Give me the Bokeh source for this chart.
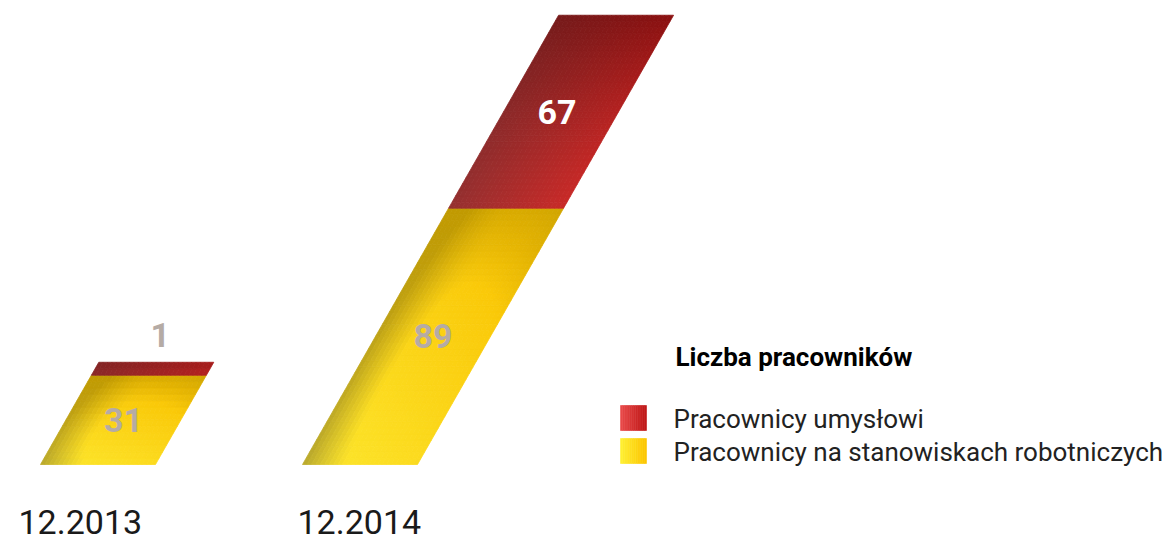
import numpy as np
from bokeh.plotting import figure
from bokeh.models import Range1d
from bokeh.embed import file_html
from bokeh.resources import INLINE
from bokeh.core.properties import value

# ---------------- data ----------------
categories = ["12.2013", "12.2014"]
blue_collar = [31, 89]     # Pracownicy na stanowiskach robotniczych
white_collar = [1, 67]     # Pracownicy umysłowi
series_names = ["Pracownicy umysłowi", "Pracownicy na stanowiskach robotniczych"]
legend_title = "Liczba pracowników"

# ---------------- layout / style ----------------
W, H = 1163, 540
K = 2.88            # pixels per unit
BASE_PX = 464       # baseline position (px from top)
SLOPE = 0.57        # horizontal px per vertical px (slant)
SHEAR = SLOPE * K   # x units per value unit
BAR_W = 115
BAR_LEFT0, BAR_STEP = 40, 262
MIN_H = 4.5         # minimum drawn height (units) so tiny values stay visible
CAT_LABEL_LEFT = [18, 297]
FONT = "Roboto"


def py(px):
    """pixel-from-top -> data y"""
    return (BASE_PX - px) / K


def lerp(a, b, t):
    return tuple(a[i] + (b[i] - a[i]) * t for i in range(3))


def hexc(c):
    return "#%02x%02x%02x" % tuple(int(max(0, min(255, round(v)))) for v in c)


def yellow_col(u, s):
    bright = (253, 231, 46)
    orange = (249, 194, 0)
    t = np.clip(0.15 + 0.85 * s + 0.35 * (u - 0.5), 0, 1)
    base = lerp(bright, orange, t)
    dark = lerp((182, 166, 46), (188, 150, 0), s)
    du = (u - 0.55) / (0.55 if u < 0.55 else 1.3)
    ds = (s - 0.3) / 0.9
    d = np.hypot(du, ds)
    e = np.clip((d - 0.45) / 0.6, 0, 0.92)
    return lerp(base, dark, e)


def red_col(u, s):
    c00 = (148, 48, 48)
    c10 = (200, 42, 40)
    c01 = (118, 26, 26)
    c11 = (138, 16, 16)
    ss = s ** 1.6
    bottom = lerp(c00, c10, u)
    top = lerp(c01, c11, u)
    return lerp(bottom, top, ss)


p = figure(width=W, height=H, x_range=Range1d(0, W), y_range=Range1d(py(H), py(0)),
           output_backend="svg", toolbar_location=None, min_border=0,
           x_axis_type=None, y_axis_type=None, outline_line_color=None,
           background_fill_color="white", border_fill_color="white")
p.grid.visible = False

xs, ys, cols = [], [], []


def add_segment(x0, y0, y1, colfn, nu=26, small=False):
    hpx = (y1 - y0) * K
    nv = max(2, int(hpx / 6))
    for j in range(nv):
        s0, s1 = j / nv, (j + 1) / nv
        ya, yb = y0 + (y1 - y0) * s0, y0 + (y1 - y0) * s1
        for i in range(nu):
            u0, u1 = i / nu, (i + 1) / nu
            xs.append([x0 + u0 * BAR_W + SHEAR * ya, x0 + u1 * BAR_W + SHEAR * ya,
                       x0 + u1 * BAR_W + SHEAR * yb, x0 + u0 * BAR_W + SHEAR * yb])
            ys.append([ya, ya, yb, yb])
            sm = (s0 + s1) / 2
            if small:
                sm = 0.45 + 0.3 * sm
            cols.append(hexc(colfn((u0 + u1) / 2, sm)))


lab_x, lab_y, lab_t, lab_c = [], [], [], []
for i, cat in enumerate(categories):
    x0 = BAR_LEFT0 + BAR_STEP * i
    yb = blue_collar[i]
    hw = max(white_collar[i], MIN_H)
    add_segment(x0, 0, yb, yellow_col)
    small = white_collar[i] * K < 30
    add_segment(x0, yb, yb + hw, red_col, small=small)
    # yellow label
    ym = yb / 2
    lab_x.append(x0 + BAR_W / 2 + SHEAR * ym); lab_y.append(ym)
    lab_t.append(str(yb)); lab_c.append("#b5aba5")
    # red label
    if small:
        yl = yb + hw + 27 / K
        lab_x.append(x0 + BAR_W / 2 + SHEAR * (yb + hw) + 4); lab_y.append(yl)
        lab_t.append(str(white_collar[i])); lab_c.append("#b5aba5")
    else:
        ym = yb + hw / 2
        lab_x.append(x0 + BAR_W / 2 + SHEAR * ym - 4); lab_y.append(ym)
        lab_t.append(str(white_collar[i])); lab_c.append("#ffffff")

p.patches(xs=xs, ys=ys, fill_color=cols, line_color=cols, line_width=0.8)

p.text(x=lab_x, y=lab_y, text=lab_t, text_color=lab_c, text_font=value(FONT),
       text_font_style="bold", text_font_size="34px", text_align="center",
       text_baseline="middle")

# category labels
p.text(x=CAT_LABEL_LEFT, y=[py(521)] * len(categories), text=categories,
       text_color="#1a1a1a", text_font=value(FONT), text_font_size="34px",
       text_align="left", text_baseline="middle")

# legend
p.text(x=[675], y=[py(356)], text=[legend_title], text_color="#000000",
       text_font=value(FONT), text_font_style="bold", text_font_size="26px",
       text_align="left", text_baseline="middle")

sw_left, sw_w = 620, 26
sw_tops = [405, 438]
sw_cols = [((234, 76, 76), (190, 22, 22)), ((255, 241, 52), (252, 196, 0))]
qx0, qx1, qt, qb, qc = [], [], [], [], []
n = 14
for k_, top in enumerate(sw_tops):
    c0, c1 = sw_cols[k_]
    for j in range(n):
        qx0.append(sw_left + sw_w * j / n)
        qx1.append(sw_left + sw_w * (j + 1) / n)
        qt.append(py(top)); qb.append(py(top + 25))
        qc.append(hexc(lerp(c0, c1, (j + 0.5) / n)))
p.quad(left=qx0, right=qx1, top=qt, bottom=qb, fill_color=qc, line_color=qc, line_width=0.6)

p.text(x=[673, 673], y=[py(y + 13) for y in sw_tops], text=series_names,
       text_color="#222222", text_font=value(FONT), text_font_size="26px",
       text_align="left", text_baseline="middle")

open("out.html", "w").write(file_html(p, INLINE))
